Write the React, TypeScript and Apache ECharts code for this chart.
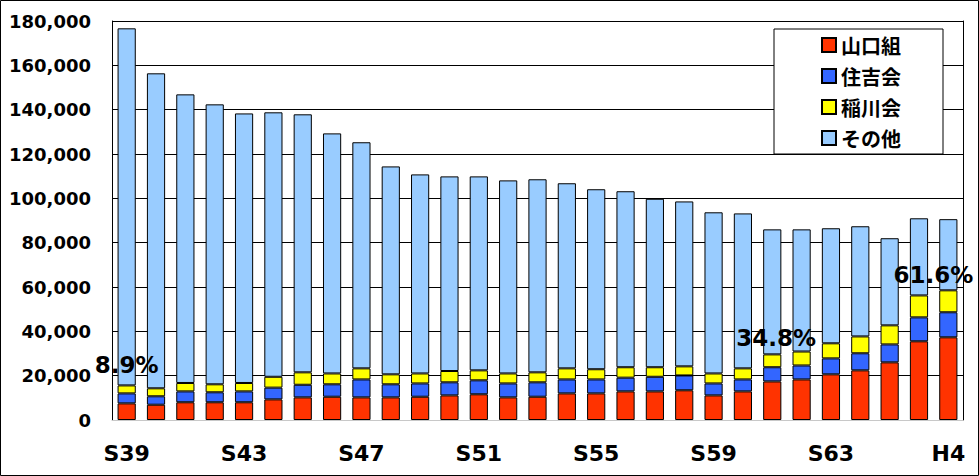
import React, { useEffect, useRef } from "react";
import * as echarts from "echarts";

const categories = [
  "S39", "S40", "S41", "S42", "S43", "S44", "S45", "S46", "S47", "S48",
  "S49", "S50", "S51", "S52", "S53", "S54", "S55", "S56", "S57", "S58",
  "S59", "S60", "S61", "S62", "S63", "H1", "H2", "H3", "H4",
];

const yamaguchi = [
  7500, 6900, 8000, 8000, 8000, 9300, 10200, 10500, 10200, 10200,
  10500, 11100, 11600, 10200, 10500, 12000, 12000, 12900, 12900, 13400,
  11100, 12900, 17400, 18300, 20600, 22400, 26000, 35500, 37300,
];

const sumiyoshi = [
  4500, 3800, 4900, 4500, 4900, 5300, 5700, 5600, 8100, 5900,
  6000, 5900, 6300, 6300, 6500, 6300, 6300, 6200, 6600, 6700,
  5400, 5400, 6400, 6300, 7200, 7700, 8100, 10800, 11300,
];

const inagawa = [
  3600, 3600, 3800, 3600, 3800, 4900, 5600, 4900, 5000, 4500,
  4500, 5100, 4500, 4500, 4500, 5000, 4600, 4700, 4300, 4100,
  4500, 5000, 5800, 6300, 6800, 7600, 8600, 9900, 9900,
];

const others = [
  161100, 142100, 130200, 126300, 121600, 119300, 116400, 108300, 102000, 93800,
  89800, 87800, 87500, 87100, 87100, 83500, 81200, 79400, 76000, 74400,
  72700, 69900, 56400, 55100, 51900, 49700, 39300, 34800, 32100,
];

const seriesNames = ["山口組", "住吉会", "稲川会", "その他"];

// share of the three big groups, annotated on selected years
const shareCategories = ["S39", "S61", "H4"];
const shareTexts = ["8.9%", "34.8%", "61.6%"];

const yTickMax = 180000;
const yTickStep = 20000;

const FONT = "'DejaVu Sans', 'Noto Sans CJK JP', sans-serif";

export default function App() {
  const ref = useRef<HTMLDivElement>(null);

  useEffect(() => {
    if (!ref.current) return;
    const chart = echarts.init(ref.current, null, { renderer: "svg" });

    const labelOffsets: Record<string, number[]> = {
      S39: [0, -5],
      S61: [4, -1],
      H4: [-15, 0],
    };

    const inagawaData = inagawa.map((v, i) => {
      const k = shareCategories.indexOf(categories[i]);
      if (k < 0) return v;
      return {
        value: v,
        label: {
          show: true,
          position: "top",
          distance: 4,
          formatter: shareTexts[k],
          offset: labelOffsets[categories[i]] || [0, 0],
          color: "#000",
          fontSize: 23,
          fontWeight: "bold",
          fontFamily: FONT,
        },
      };
    });

    const colors = ["#FF3300", "#3366FF", "#FFFF00", "#99CCFF"];
    const datas: any[] = [yamaguchi, sumiyoshi, inagawaData, others];

    const series = seriesNames.map((name, i) => ({
      name,
      type: "bar",
      stack: "total",
      barCategoryGap: "38%",
      data: datas[i],
      itemStyle: { color: colors[i], borderColor: "#000", borderWidth: 1 },
      emphasis: { disabled: true },
      z: 3,
    }));

    chart.setOption({
      animation: false,
      backgroundColor: "#fff",
      grid: { left: 112, right: 16, top: 21, bottom: 56, containLabel: false },
      legend: {
        orient: "vertical",
        left: 774,
        top: 29,
        padding: [6, 42, 6, 47],
        itemWidth: 14,
        itemHeight: 14,
        itemGap: 11,
        icon: "rect",
        backgroundColor: "#fff",
        borderColor: "#000",
        borderWidth: 1,
        borderRadius: 0,
        data: seriesNames,
        textStyle: {
          color: "#000",
          fontSize: 20,
          lineHeight: 20,
          fontWeight: "bold",
          fontFamily: "'Noto Sans CJK JP', sans-serif",
          padding: [0, 0, 0, 0],
        },
        selectedMode: false,
        z: 10,
      },
      xAxis: {
        type: "category",
        data: categories,
        axisTick: { show: false },
        axisLine: { show: true, lineStyle: { color: "#c8c8c8", width: 1 } },
        axisLabel: {
          interval: 3,
          margin: 22,
          color: "#000",
          fontSize: 22,
          fontWeight: "bold",
          fontFamily: FONT,
        },
        splitLine: { show: false },
      },
      yAxis: [
        {
          type: "value",
          min: 0,
          max: yTickMax,
          interval: yTickStep,
          axisLine: { show: true, lineStyle: { color: "#000", width: 1 } },
          axisTick: { show: false },
          axisLabel: {
            margin: 21,
            color: "#000",
            fontSize: 18,
            fontWeight: "bold",
            fontFamily: FONT,
            formatter: (v: number) => v.toLocaleString("en-US"),
          },
          splitLine: { show: true, lineStyle: { color: "#000", width: 1 } },
        },
        {
          type: "value",
          position: "right",
          min: 0,
          max: yTickMax,
          interval: yTickStep,
          axisLine: { show: true, lineStyle: { color: "#000", width: 1 } },
          axisTick: { show: false },
          axisLabel: { show: false },
          splitLine: { show: false },
        },
      ],
      series,
      graphic: [
        {
          type: "rect",
          shape: { x: 0.5, y: 0.5, width: 978, height: 475 },
          style: { fill: "none", stroke: "#000", lineWidth: 1 },
          silent: true,
          z: 100,
        },
      ],
    });

    return () => chart.dispose();
  }, []);

  return (
    <div
      ref={ref}
      style={{ position: "fixed", left: 0, top: 0, width: 979, height: 476 }}
    />
  );
}
